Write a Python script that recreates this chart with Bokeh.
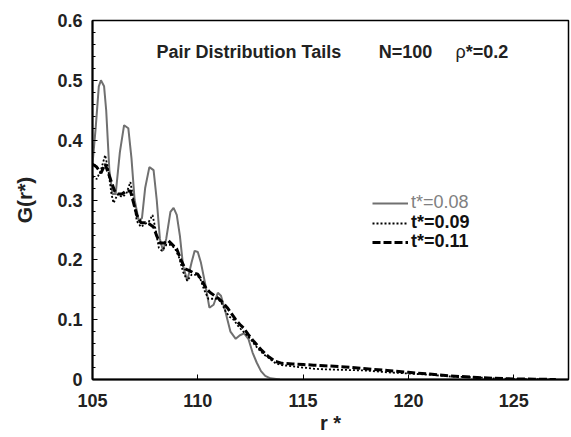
from bokeh.plotting import figure
from bokeh.models import Legend, LegendItem, Label, FixedTicker, Range1d
from bokeh.embed import file_html
from bokeh.resources import INLINE

# ---- data ----
x_t008 = [105.0, 105.15, 105.3, 105.4, 105.55, 105.65, 105.8, 105.95, 106.1, 106.3,
          106.5, 106.7, 106.85, 107.0, 107.2, 107.35, 107.5, 107.7, 107.9, 108.05,
          108.2, 108.35, 108.5, 108.7, 108.85, 109.0, 109.15, 109.3, 109.5, 109.7,
          109.85, 110.0, 110.15, 110.35, 110.55, 110.75, 110.95, 111.1, 111.3, 111.55,
          111.8, 112.0, 112.2, 112.4, 112.6, 112.8, 113.0, 113.2, 113.45, 113.9]
g_t008 = [0.36, 0.42, 0.49, 0.50, 0.49, 0.45, 0.35, 0.31, 0.31, 0.38,
          0.425, 0.42, 0.37, 0.30, 0.265, 0.27, 0.32, 0.355, 0.35, 0.30,
          0.235, 0.215, 0.235, 0.28, 0.287, 0.275, 0.24, 0.19, 0.165, 0.195,
          0.215, 0.213, 0.195, 0.16, 0.12, 0.125, 0.145, 0.14, 0.115, 0.08,
          0.068, 0.074, 0.077, 0.068, 0.045, 0.028, 0.014, 0.006, 0.002, 0.0]

x_t009 = [105.0, 105.2, 105.4, 105.6, 105.75, 105.9, 106.0, 106.2, 106.4, 106.6,
          106.8, 106.95, 107.1, 107.3, 107.5, 107.7, 107.85, 108.0, 108.15, 108.3,
          108.5, 108.7, 108.9, 109.1, 109.3, 109.5, 109.7, 109.9, 110.1, 110.3,
          110.5, 110.7, 110.9, 111.1, 111.3, 111.5, 111.7, 111.9, 112.1, 112.3,
          112.5, 112.7, 112.9, 113.1, 113.4, 113.7, 114.0, 114.5, 115.0, 115.5,
          116.0, 117.0, 118.0, 119.0, 120.0, 121.0, 122.0, 123.0, 124.0, 125.0,
          126.0, 127.0]
g_t009 = [0.34, 0.335, 0.35, 0.375, 0.35, 0.31, 0.295, 0.31, 0.305, 0.31,
          0.33, 0.30, 0.265, 0.255, 0.26, 0.265, 0.275, 0.25, 0.22, 0.215,
          0.225, 0.225, 0.22, 0.205, 0.18, 0.165, 0.175, 0.175, 0.17, 0.15,
          0.135, 0.135, 0.135, 0.13, 0.115, 0.105, 0.10, 0.09, 0.082, 0.075,
          0.068, 0.058, 0.05, 0.043, 0.035, 0.027, 0.024, 0.022, 0.02, 0.018,
          0.017, 0.016, 0.015, 0.012, 0.01, 0.008, 0.005, 0.004, 0.002, 0.001,
          0.0005, 0.0]

x_t011 = [105.0, 105.2, 105.4, 105.6, 105.75, 105.9, 106.05, 106.2, 106.4, 106.6,
          106.8, 106.95, 107.1, 107.3, 107.5, 107.7, 107.9, 108.05, 108.2, 108.4,
          108.6, 108.8, 109.0, 109.2, 109.4, 109.6, 109.8, 110.0, 110.2, 110.4,
          110.6, 110.8, 111.0, 111.2, 111.4, 111.6, 111.8, 112.0, 112.2, 112.4,
          112.6, 112.8, 113.0, 113.2, 113.4, 113.7, 114.0, 114.5, 115.0, 115.5,
          116.0, 117.0, 118.0, 119.0, 120.0, 121.0, 122.0, 123.0, 124.0, 125.0,
          126.0, 127.0]
g_t011 = [0.36, 0.355, 0.345, 0.36, 0.345, 0.33, 0.315, 0.31, 0.31, 0.315,
          0.315, 0.295, 0.275, 0.262, 0.262, 0.26, 0.255, 0.24, 0.228, 0.228,
          0.232, 0.225, 0.218, 0.20, 0.185, 0.182, 0.178, 0.176, 0.165, 0.152,
          0.145, 0.14, 0.135, 0.128, 0.12, 0.11, 0.10, 0.092, 0.085, 0.075,
          0.066, 0.058, 0.05, 0.043, 0.037, 0.03, 0.027, 0.026, 0.025, 0.024,
          0.023, 0.021, 0.018, 0.015, 0.012, 0.009, 0.006, 0.004, 0.002, 0.001,
          0.0005, 0.0]

series_labels = ["t*=0.08", "t*=0.09", "t*=0.11"]
x_ticks = [105, 110, 115, 120, 125]
y_ticks = [0, 0.1, 0.2, 0.3, 0.4, 0.5, 0.6]
y_tick_labels = ["0", "0.1", "0.2", "0.3", "0.4", "0.5", "0.6"]
y_minor = [round(i * 0.02, 2) for i in range(31)]
title_parts = ["Pair Distribution Tails", "N=100", "\u03c1", "*=0.2"]
title_styles = ["bold", "bold", "normal", "bold"]
title_x = [108.04, 118.59, 122.24, 122.72]
title_y = 0.547

FONT = "Liberation Sans"

p = figure(width=571, height=437, x_range=Range1d(105, 127.6), y_range=Range1d(0, 0.6),
           output_backend="svg", toolbar_location=None,
           min_border_left=92, min_border_right=3, min_border_top=20, min_border_bottom=58,
           x_axis_label="r *", y_axis_label="G(r*)")
p.xgrid.visible = False
p.ygrid.visible = False
p.outline_line_color = "black"
p.outline_line_width = 1.5
p.background_fill_color = "white"
p.border_fill_color = "white"

# axes
xa = p.xaxis[0]
xa.ticker = FixedTicker(ticks=x_ticks)
xa.major_tick_in = 5
xa.major_tick_out = 0
xa.minor_tick_in = 0
xa.minor_tick_out = 0
xa.axis_line_width = 2
xa.major_label_standoff = 14
xa.major_label_text_font = FONT
xa.major_label_text_font_style = "bold"
xa.major_label_text_font_size = "18px"
xa.major_label_text_color = "#222222"
xa.axis_label_text_font = FONT
xa.axis_label_text_font_style = "bold"
xa.axis_label_text_font_size = "20px"
xa.axis_label_standoff = 2
xa.axis_label_text_color = "#222222"

ya = p.yaxis[0]
ya.ticker = FixedTicker(ticks=y_ticks, minor_ticks=y_minor)
ya.major_label_overrides = {t: l for t, l in zip(y_ticks, y_tick_labels)}
ya.major_tick_in = 5
ya.major_tick_out = 0
ya.minor_tick_in = 3
ya.minor_tick_out = 0
ya.axis_line_width = 2
ya.major_label_standoff = 10
ya.major_label_text_font = FONT
ya.major_label_text_font_style = "bold"
ya.major_label_text_font_size = "18px"
ya.major_label_text_color = "#222222"
ya.axis_label_text_font = FONT
ya.axis_label_text_font_style = "bold"
ya.axis_label_text_font_size = "21px"
ya.axis_label_standoff = 18
ya.axis_label_text_color = "#222222"

# curves
r1 = p.line(x_t008, g_t008, line_color="#707070", line_width=2)
r2 = p.line(x_t009, g_t009, line_color="black", line_width=1.8, line_dash="2 2")
r3 = p.line(x_t011, g_t011, line_color="black", line_width=3, line_dash="8 3")

# legend (one block per entry so the first label can be grey)
legend_specs = [(r1, series_labels[0], "#808080", "normal", 166),
                (r2, series_labels[1], "#111111", "bold", 146),
                (r3, series_labels[2], "#111111", "bold", 127)]
for rend, lab, col, style, yoff in legend_specs:
    lg = Legend(items=[LegendItem(label=lab, renderers=[rend])], location=(280, yoff),
                glyph_width=36, glyph_height=20, label_height=20, label_standoff=3,
                padding=0, margin=0, spacing=0, border_line_alpha=0,
                background_fill_alpha=0, label_text_font=FONT,
                label_text_font_size="18px", label_text_color=col,
                label_text_font_style=style)
    p.add_layout(lg, "center")

# title text inside the plot
for txt, tx, st in zip(title_parts, title_x, title_styles):
    p.add_layout(Label(x=tx, y=title_y, text=txt, text_font=FONT, text_font_style=st,
                       text_font_size="18px", text_baseline="middle", text_align="left",
                       text_color="#222222"))

open("out.html", "w").write(file_html(p, INLINE))
